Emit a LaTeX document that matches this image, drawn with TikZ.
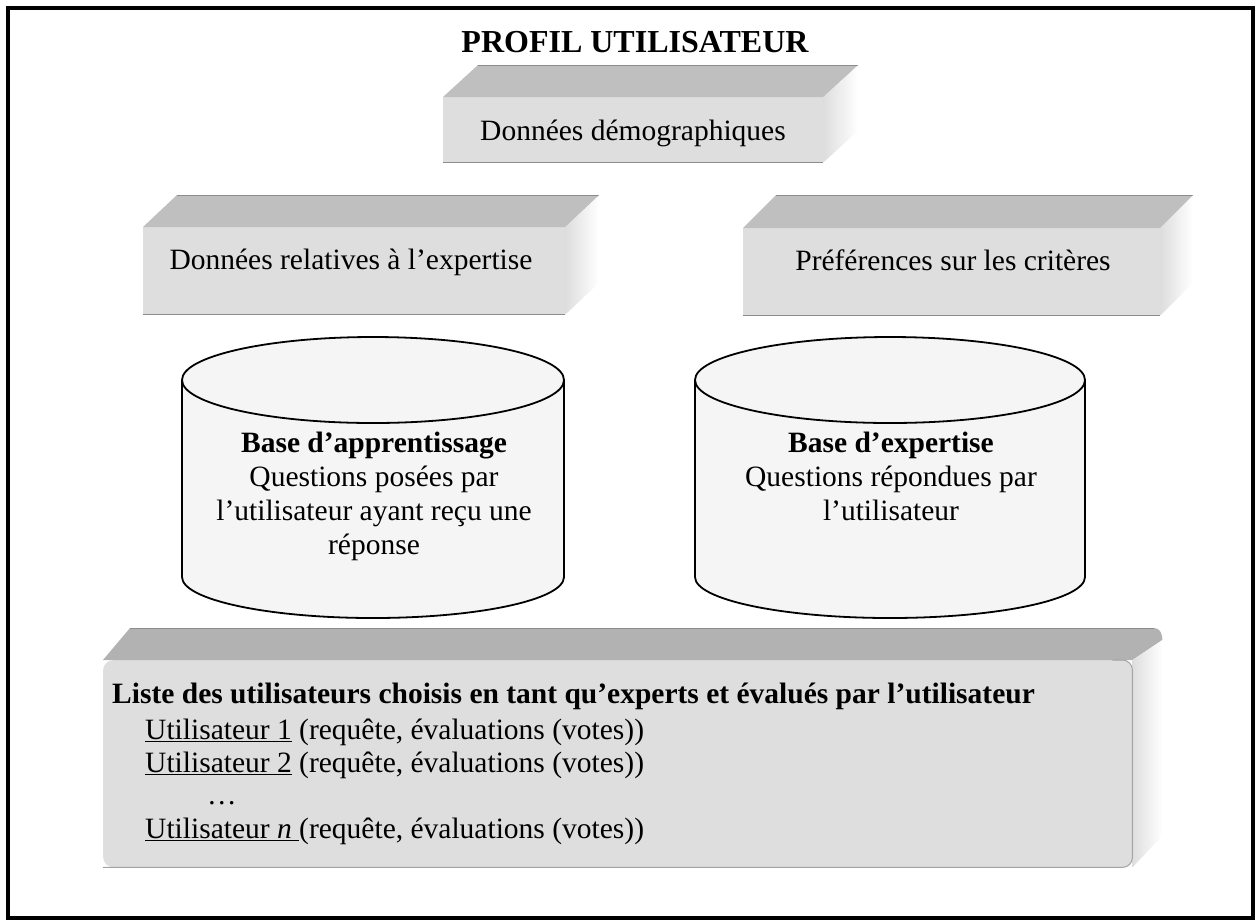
\documentclass[tikz,border=0pt]{standalone}
\usepackage{fontspec}
\setmainfont{Liberation Serif}
\usetikzlibrary{calc}

\definecolor{facegray}{gray}{0.87}
\definecolor{topgray}{gray}{0.75}
\definecolor{listtop}{gray}{0.70}
\definecolor{edgegray}{gray}{0.55}
\definecolor{cylfill}{gray}{0.96}

% top and right faces of a slab whose front face is the node #1, depth (#2,#3)
\newcommand\slabfaces[3]{%
  \fill[topgray] (#1.north west) -- ++(#2,-#3)
        -- ($(#1.north east)+(#2,-#3)$) -- (#1.north east) -- cycle;
  \draw[edgegray, line width=0.8pt] ($(#1.north west)+(#2,-#3)$) -- ($(#1.north east)+(#2,-#3)$);
  \shade[left color=facegray, right color=white] (#1.north east) -- ++(#2,-#3)
        -- ($(#1.south east)+(#2,-#3)$) -- (#1.south east) -- cycle;
  \draw[edgegray, line width=0.8pt] (#1.south west) -- (#1.south east);
}

\begin{document}
\begin{tikzpicture}[x=1pt, y=-1pt,
  face/.style={fill=facegray, inner sep=0pt, anchor=north west},
  body/.style={font=\fontsize{29.5}{34}\selectfont, inner sep=0pt},
  titletext/.style={font=\fontsize{32}{36}\selectfont\bfseries, inner sep=0pt},
  cylline/.style={line width=1.8pt},
]
\useasboundingbox (0,0) rectangle (1260,922);
\fill[white] (0,0) rectangle (1260,922);

% outer frame
\draw[line width=4pt] (8,8) rectangle (1253,918);

% title
\node[titletext, anchor=base] (title) at (635,52) {PROFIL UTILISATEUR};

% slab: demographic data
\node[face, minimum width=380, minimum height=65] (demo) at (443,97) {};
\slabfaces{demo}{35}{32}
\node[body, anchor=base] (demotxt) at (633,140) {Données démographiques};

% slab: expertise data
\node[face, minimum width=422, minimum height=87] (expd) at (143,227) {};
\slabfaces{expd}{34}{32}
\node[body, anchor=base] (expdtxt) at (351,269) {Données relatives à l’expertise};

% slab: preferences
\node[face, minimum width=417, minimum height=87] (pref) at (743,228) {};
\slabfaces{pref}{33}{33}
\node[body, anchor=base] (preftxt) at (953,270) {Préférences sur les critères};

% cylinder: learning base
\path[fill=cylfill] (182,380) -- (182,577)
  arc[start angle=180, end angle=360, x radius=191pt, y radius=41pt] -- (564,380) -- cycle;
\draw[cylline] (182,380) -- (182,577)
  arc[start angle=180, end angle=360, x radius=191pt, y radius=41pt] -- (564,380);
\draw[cylline, fill=cylfill] (373,380) ellipse [x radius=191pt, y radius=43pt];
\node[body, anchor=north, align=center] (learn) at (374,432)
  {\textbf{Base d’apprentissage}\\Questions posées par\\l’utilisateur ayant reçu une\\réponse};

% cylinder: expertise base
\path[fill=cylfill] (695,380) -- (695,577)
  arc[start angle=180, end angle=360, x radius=195pt, y radius=41pt] -- (1085,380) -- cycle;
\draw[cylline] (695,380) -- (695,577)
  arc[start angle=180, end angle=360, x radius=195pt, y radius=41pt] -- (1085,380);
\draw[cylline, fill=cylfill] (890,380) ellipse [x radius=195pt, y radius=43pt];
\node[body, anchor=north, align=center] (exper) at (891,432)
  {\textbf{Base d’expertise}\\Questions répondues par\\l’utilisateur};

% slab: list of chosen experts
\node[face, minimum width=1029, minimum height=207, rounded corners=10pt] (list) at (103,660) {};
\fill[listtop] (list.north west) -- ++(27,-32)
      -- ($(list.north east)+(22,-32)$) to[out=0,in=90] ($(list.north east)+(30,-20)$)
      -- (list.north east) -- cycle;
\draw[edgegray, line width=0.8pt] ($(list.north west)+(27,-32)$) -- ($(list.north east)+(22,-32)$);
\shade[left color=facegray, right color=white] (list.north east) -- ($(list.north east)+(30,-20)$)
      -- ($(list.south east)+(30,-32)$) -- (list.south east) -- cycle;
\draw[edgegray!80, line width=1pt, rounded corners=10pt]
      ($(list.north east)+(-20,0)$) -- (list.north east) -- (list.south east) -- (list.south west);

\node[body, anchor=base west, font=\fontsize{29.5}{34}\selectfont\bfseries] (listhead) at (112,703)
  {Liste des utilisateurs choisis en tant qu’experts et évalués par l’utilisateur};
\node[body, anchor=base west] (user1) at (145,739)
  {\underline{Utilisateur 1} (requête, évaluations (votes))};
\node[body, anchor=base west] (user2) at (145,772)
  {\underline{Utilisateur 2} (requête, évaluations (votes))};
\node[body, anchor=base west] (dots) at (207,804) {…};
\node[body, anchor=base west] (usern) at (145,838)
  {\underline{Utilisateur \textit{n}\ }(requête, évaluations (votes))};
\end{tikzpicture}
\end{document}
